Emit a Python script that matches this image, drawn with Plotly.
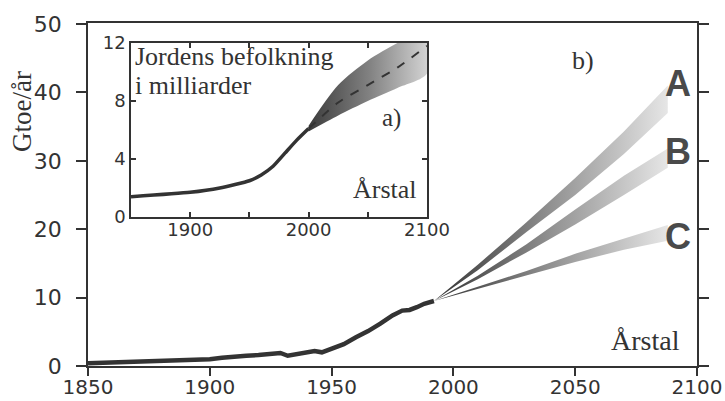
import plotly.graph_objects as go

# ---- main chart: energy use (Gtoe/år) ----
hist_years = [1850, 1860, 1870, 1880, 1890, 1900, 1905, 1910, 1915, 1920, 1925, 1929, 1932, 1935,
              1940, 1943, 1946, 1950, 1955, 1960, 1965, 1970, 1975, 1979, 1982, 1985, 1988, 1992]
hist_energy = [0.4, 0.5, 0.6, 0.7, 0.8, 1.0, 1.2, 1.4, 1.5, 1.6, 1.7, 1.9, 1.5, 1.7,
               2.1, 2.2, 2.0, 2.5, 3.2, 4.2, 5.1, 6.2, 7.4, 8.1, 8.2, 8.6, 9.1, 9.5]

fan_years = [1992, 2010, 2030, 2050, 2070, 2088]
A_upper = [9.5, 14.8, 21.0, 27.5, 34.3, 41.0]
A_lower = [9.5, 14.0, 19.6, 25.0, 31.0, 37.0]
B_upper = [9.5, 13.2, 17.8, 22.9, 27.8, 31.8]
B_lower = [9.5, 12.7, 16.6, 20.7, 25.0, 29.0]
C_upper = [9.5, 11.6, 13.9, 16.4, 18.6, 20.6]
C_lower = [9.5, 11.3, 13.2, 15.2, 17.0, 18.3]

scenario_labels = ["A", "B", "C"]
scenario_label_y = [41.3, 31.4, 18.9]

main_xticks = [1850, 1900, 1950, 2000, 2050, 2100]
main_yticks = [0, 10, 20, 30, 40, 50]

# ---- inset: world population (milliarder) ----
pop_years = [1850, 1900, 1925, 1950, 1960, 1970, 1980, 1990, 2000]
pop_values = [1.4, 1.7, 2.0, 2.5, 2.9, 3.5, 4.4, 5.3, 6.1]
proj_years = [2000, 2025, 2050, 2075, 2100]
proj_upper = [6.3, 9.1, 10.8, 12.0, 13.0]
proj_lower = [5.9, 7.0, 8.0, 8.9, 9.9]
proj_median = [6.1, 7.9, 9.1, 10.3, 11.8]

inset_xticks = [1850, 1900, 1950, 2000, 2050, 2100]
inset_xticktext = ["", "1900", "", "2000", "", "2100"]
inset_yticks = [0, 4, 8, 12]

INK = "#333333"
SANS = "DejaVu Sans"
SERIF = "Liberation Serif"

# plot-area pixel geometry
L, R, T, B = 88, 28, 23, 35
W, H = 725, 401
PW, PH = W - L - R, H - T - B
BOTTOM = T + PH

fig = go.Figure()

fan_scale = [[0, "rgb(50,50,50)"], [0.5, "rgb(145,145,145)"], [1, "rgb(230,230,230)"]]
for up, lo in [(A_upper, A_lower), (B_upper, B_lower), (C_upper, C_lower)]:
    fig.add_trace(go.Scatter(
        x=fan_years + fan_years[::-1], y=up + lo[::-1],
        fill="toself", mode="lines", line=dict(width=0),
        fillgradient=dict(type="horizontal", colorscale=fan_scale),
        hoverinfo="skip", showlegend=False, xaxis="x", yaxis="y"))

fig.add_trace(go.Scatter(x=hist_years, y=hist_energy, mode="lines",
                         line=dict(color=INK, width=4.5), showlegend=False,
                         xaxis="x", yaxis="y"))

# inset traces
pop_scale = [[0, "rgb(60,60,60)"], [0.5, "rgb(130,130,130)"], [1, "rgb(215,215,215)"]]
fig.add_trace(go.Scatter(
    x=proj_years + proj_years[::-1], y=proj_upper + proj_lower[::-1],
    fill="toself", mode="lines", line=dict(width=0, shape="spline", smoothing=0.8),
    fillgradient=dict(type="horizontal", colorscale=pop_scale),
    hoverinfo="skip", showlegend=False, xaxis="x2", yaxis="y2"))
fig.add_trace(go.Scatter(x=pop_years, y=pop_values, mode="lines",
                         line=dict(color=INK, width=3.5, shape="spline", smoothing=0.5),
                         showlegend=False, xaxis="x2", yaxis="y2"))
fig.add_trace(go.Scatter(x=proj_years, y=proj_median, mode="lines",
                         line=dict(color=INK, width=2, dash="dash", shape="spline", smoothing=0.6),
                         showlegend=False, xaxis="x2", yaxis="y2"))

annotations = []
for lab, yy in zip(scenario_labels, scenario_label_y):
    annotations.append(dict(x=2092, y=yy, xref="x", yref="y", text="<b>%s</b>" % lab,
                            showarrow=False, font=dict(family="Liberation Sans", size=36, color="#4a4a4a")))
annotations += [
    dict(x=2053, y=44.7, xref="x", yref="y", text="b)", showarrow=False,
         font=dict(family=SERIF, size=26, color=INK)),
    dict(x=2079, y=3.8, xref="x", yref="y", text="Årstal", showarrow=False,
         font=dict(family=SERIF, size=28, color=INK)),
    dict(x=1851.5, y=11.1, xref="x2", yref="y2", text="Jordens befolkning", xanchor="left",
         showarrow=False, font=dict(family=SERIF, size=26, color=INK)),
    dict(x=1851.5, y=9.1, xref="x2", yref="y2", text="i milliarder", xanchor="left",
         showarrow=False, font=dict(family=SERIF, size=26, color=INK)),
    dict(x=2069.6, y=6.8, xref="x2", yref="y2", text="a)", showarrow=False,
         font=dict(family=SERIF, size=25, color=INK)),
    dict(x=2064.5, y=1.9, xref="x2", yref="y2", text="Årstal", showarrow=False,
         font=dict(family=SERIF, size=26, color=INK)),
    dict(x=(22 - L) / PW, y=(BOTTOM - 112) / PH, xref="paper", yref="paper", text="Gtoe/år",
         textangle=-90, xanchor="center", yanchor="middle",
         showarrow=False, font=dict(family=SERIF, size=27, color=INK)),
]

axis_common = dict(showgrid=False, zeroline=False, showline=True, linecolor=INK, linewidth=1.5,
                   tickcolor=INK, tickwidth=1.5, automargin=False)

fig.update_layout(
    width=W, height=H,
    margin=dict(l=L, r=R, t=T, b=B),
    paper_bgcolor="white", plot_bgcolor="white",
    xaxis=dict(range=[1850, 2100], tickvals=main_xticks, ticks="outside", ticklen=8,
               mirror=True, tickfont=dict(family=SANS, size=20, color=INK),
               ticklabelstandoff=-6, **axis_common),
    yaxis=dict(range=[0, 50.15], tickvals=main_yticks, ticks="outside", ticklen=10,
               mirror="ticks", tickfont=dict(family=SANS, size=22, color=INK),
               ticklabelstandoff=10, **axis_common),
    xaxis2=dict(domain=[(131 - L) / PW, (427 - L) / PW], anchor="y2", range=[1850, 2100],
                tickvals=inset_xticks, ticktext=inset_xticktext, ticks="inside", ticklen=5,
                mirror="ticks", tickfont=dict(family=SANS, size=18, color=INK),
                ticklabelstandoff=-4, **axis_common),
    yaxis2=dict(domain=[(BOTTOM - 217) / PH, (BOTTOM - 43) / PH], anchor="x2", range=[0, 12],
                tickvals=inset_yticks, ticks="inside", ticklen=5, mirror="ticks",
                tickfont=dict(family=SANS, size=18, color=INK), **axis_common),
    annotations=annotations,
)

fig.write_html("out.html")
